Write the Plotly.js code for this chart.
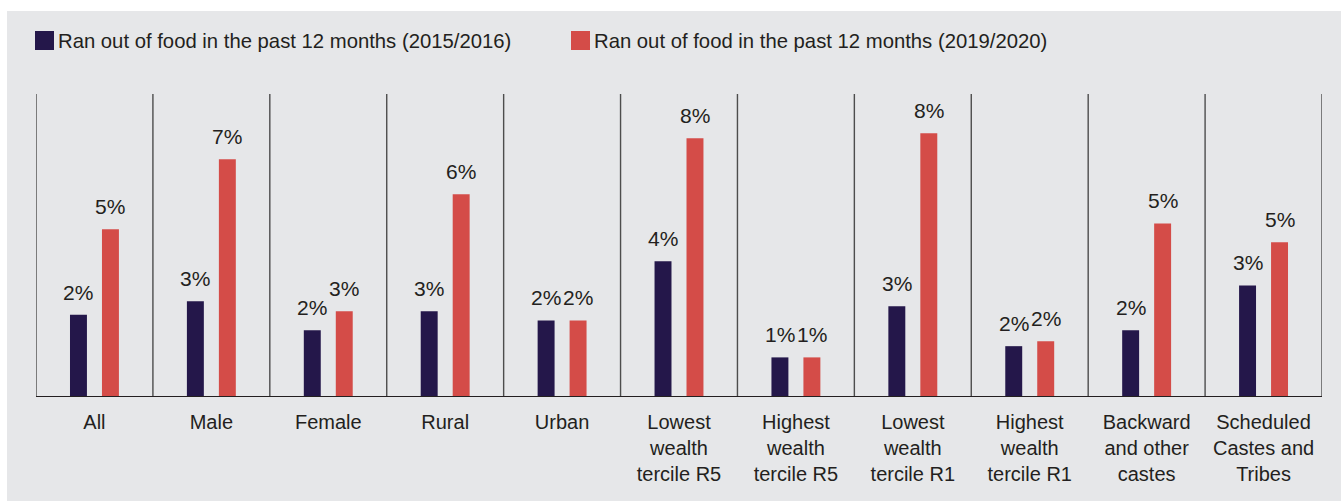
<!DOCTYPE html>
<html>
<head>
<meta charset="utf-8">
<script src="https://cdn.plot.ly/plotly-3.0.1.min.js"></script>
<style>
  html, body { margin: 0; padding: 0; background: #ffffff; width: 1341px; height: 501px; overflow: hidden; }
  #chart { position: absolute; left: 7px; top: 11px; width: 1334px; height: 490px; }
</style>
</head>
<body>
<div id="chart"></div>
<script>
// ---- data ----
const categories = [
  "All", "Male", "Female", "Rural", "Urban",
  "Lowest<br>wealth<br>tercile R5", "Highest<br>wealth<br>tercile R5",
  "Lowest<br>wealth<br>tercile R1", "Highest<br>wealth<br>tercile R1",
  "Backward<br>and other<br>castes", "Scheduled<br>Castes and<br>Tribes"
];
const seriesNames = [
  "Ran out of food in the past 12 months (2015/2016)",
  "Ran out of food in the past 12 months (2019/2020)"
];
const values2015 = [2.49, 2.90, 2.02, 2.60, 2.32, 4.11, 1.20, 2.75, 1.54, 2.02, 3.38];
const values2019 = [5.08, 7.20, 2.60, 6.14, 2.32, 7.84, 1.20, 7.99, 1.69, 5.26, 4.69];
const labels2015 = ["2%", "3%", "2%", "3%", "2%", "4%", "1%", "3%", "2%", "2%", "3%"];
const labels2019 = ["5%", "7%", "3%", "6%", "2%", "8%", "1%", "8%", "2%", "5%", "5%"];

// ---- style ----
const colDark = "#24174a";
const colRed = "#d44c48";
const textCol = "#231f20";
const FONT = "Liberation Sans, Arial, sans-serif";
const barOffsetPx = 16;

const traces = [
  { type: "bar", name: seriesNames[0], x: categories, y: values2015,
    marker: { color: colDark }, showlegend: false, hoverinfo: "skip" },
  { type: "bar", name: seriesNames[1], x: categories, y: values2019,
    marker: { color: colRed }, showlegend: false, hoverinfo: "skip" }
];

const shapes = [];
// vertical separators between categories
for (let i = 0; i <= categories.length; i++) {
  shapes.push({ type: "line", xref: "x", yref: "paper", x0: i - 0.5, x1: i - 0.5, y0: 0, y1: 1,
    line: { color: "#4d4d4d", width: 1.4 } });
}
// baseline
shapes.push({ type: "line", xref: "x", yref: "y", x0: -0.5, x1: categories.length - 0.5, y0: 0, y1: 0,
  line: { color: "#231f20", width: 1.8 } });

const annotations = [];
categories.forEach((c, i) => {
  annotations.push({ x: c, y: values2015[i], xref: "x", yref: "y", text: labels2015[i],
    showarrow: false, xshift: -barOffsetPx, yanchor: "bottom", yshift: 9,
    font: { family: FONT, size: 21, color: textCol } });
  annotations.push({ x: c, y: values2019[i], xref: "x", yref: "y", text: labels2019[i],
    showarrow: false, xshift: barOffsetPx, yanchor: "bottom", yshift: 9,
    font: { family: FONT, size: 21, color: textCol } });
});

// manual legend (large square markers)
const legendItems = [
  { color: colDark, name: seriesNames[0], x0: 28, textX: 49 },
  { color: colRed, name: seriesNames[1], x0: 564, textX: 585 }
];
legendItems.forEach(it => {
  shapes.push({ type: "rect", xref: "paper", yref: "paper",
    x0: (it.x0 - 29) / 1286, x1: (it.x0 + 19 - 29) / 1286,
    y0: (386 - 39) / 303, y1: (386 - 20) / 303,
    fillcolor: it.color, line: { width: 0 } });
  annotations.push({ xref: "paper", yref: "paper", x: (it.textX - 29) / 1286, y: (386 - 30) / 303,
    xanchor: "left", yanchor: "middle", showarrow: false, text: it.name,
    font: { family: FONT, size: 20.3, color: textCol } });
});

const layout = {
  width: 1334, height: 490,
  margin: { l: 29, r: 19, t: 83, b: 104 },
  paper_bgcolor: "#e6e7e9",
  plot_bgcolor: "#e6e7e9",
  barmode: "group",
  bargap: 0.453,
  bargroupgap: 0.47,
  showlegend: false,
  font: { family: FONT, size: 20, color: textCol },
  xaxis: {
    type: "category", range: [-0.5, 10.5], showgrid: false, zeroline: false, showline: false,
    ticks: "", ticklabelstandoff: 11, tickfont: { family: FONT, size: 20, color: textCol },
    fixedrange: true
  },
  yaxis: {
    range: [0, 9.18], showgrid: false, zeroline: false, showline: false, showticklabels: false,
    ticks: "", fixedrange: true
  },
  shapes: shapes,
  annotations: annotations
};

Plotly.newPlot("chart", traces, layout, { displayModeBar: false, staticPlot: true });
</script>
</body>
</html>
